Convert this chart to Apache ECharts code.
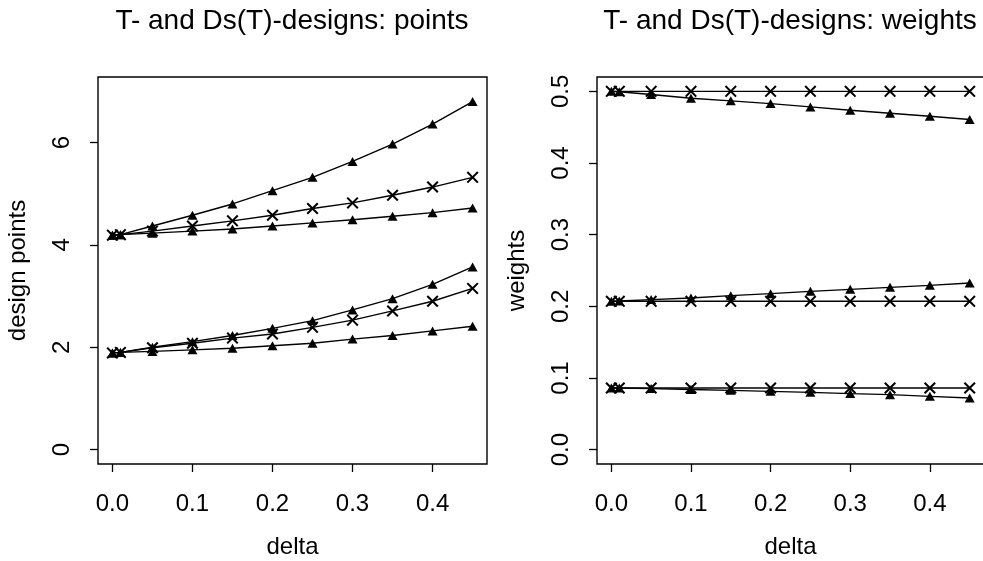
<!DOCTYPE html>
<html>
<head>
<meta charset="utf-8">
<script src="https://cdn.jsdelivr.net/npm/echarts@6/dist/echarts.min.js"></script>
<style>
  html, body { margin: 0; padding: 0; background: #fff; }
  #chart { width: 983px; height: 561px; }
</style>
</head>
<body>
<div id="chart"></div>
<script>
const delta = [0, 0.01, 0.05, 0.1, 0.15, 0.2, 0.25, 0.3, 0.35, 0.4, 0.45]
const xTicks = [0, 0.1, 0.2, 0.3, 0.4]
const pointTicks = [0, 2, 4, 6]
const weightTicks = [0, 0.1, 0.2, 0.3, 0.4, 0.5]

// design points
const pointsTUpperHigh = [4.19, 4.20, 4.37, 4.58, 4.80, 5.06, 5.32, 5.63, 5.97, 6.36, 6.80]
const pointsDsUpper = [4.19, 4.20, 4.27, 4.37, 4.47, 4.58, 4.71, 4.82, 4.97, 5.13, 5.32]
const pointsTUpperLow = [4.19, 4.20, 4.23, 4.27, 4.31, 4.37, 4.43, 4.49, 4.56, 4.63, 4.72]
const pointsTLowerHigh = [1.89, 1.90, 2.00, 2.11, 2.23, 2.37, 2.52, 2.73, 2.95, 3.23, 3.57]
const pointsDsLower = [1.89, 1.90, 1.99, 2.08, 2.18, 2.26, 2.39, 2.53, 2.71, 2.90, 3.15]
const pointsTLowerLow = [1.89, 1.90, 1.92, 1.95, 1.98, 2.03, 2.08, 2.16, 2.23, 2.32, 2.41]

// weights
const weightsTTop = [0.5, 0.4995, 0.4955, 0.4903, 0.4867, 0.4829, 0.4783, 0.4736, 0.4694, 0.4652, 0.4606]
const weightsDsTop = [0.5, 0.5, 0.5, 0.5, 0.5, 0.5, 0.5, 0.5, 0.5, 0.5, 0.5]
const weightsTMid = [0.207, 0.2075, 0.2094, 0.2117, 0.2149, 0.2177, 0.2209, 0.2237, 0.2265, 0.2293, 0.2326]
const weightsDsMid = [0.207, 0.207, 0.207, 0.207, 0.207, 0.207, 0.207, 0.207, 0.207, 0.207, 0.207]
const weightsTLow = [0.0861, 0.086, 0.0852, 0.084, 0.0828, 0.0814, 0.08, 0.0782, 0.0768, 0.0744, 0.0721]
const weightsDsLow = [0.0861, 0.0861, 0.0861, 0.0861, 0.0861, 0.0861, 0.0861, 0.0861, 0.0861, 0.0861, 0.0861]

const FONT = '"Liberation Sans", Arial, Helvetica, sans-serif'
const CROSS = 'path://M0,1.2L1.2,0L5,3.8L8.8,0L10,1.2L6.2,5L10,8.8L8.8,10L5,6.2L1.2,10L0,8.8L3.8,5Z'

const makeSeries = (values, mark, idx) => ({
  type: 'line',
  xAxisIndex: idx,
  yAxisIndex: idx,
  data: delta.map((d, i) => [d, values[i]]),
  symbol: mark === 'tri' ? 'triangle' : CROSS,
  symbolSize: mark === 'tri' ? [10, 9] : 12,
  showAllSymbol: true,
  lineStyle: { color: '#000', width: 1.4 },
  itemStyle: { color: '#000' },
  silent: true
})

const xAxisFor = (idx) => ({
  type: 'value',
  gridIndex: idx,
  min: -0.018,
  max: 0.468,
  name: 'delta',
  nameLocation: 'middle',
  nameGap: 71,
  nameTextStyle: { fontFamily: FONT, fontSize: 24, color: '#000' },
  axisLine: { show: false, onZero: false },
  axisTick: { show: true, inside: false, length: 8, customValues: xTicks, lineStyle: { color: '#000', width: 1.3 } },
  axisLabel: { customValues: xTicks, margin: 28, fontFamily: FONT, fontSize: 24, color: '#000', formatter: v => v.toFixed(1) },
  splitLine: { show: false }
})

const yAxisFor = (idx, min, max, ticks, name, fmt) => ({
  type: 'value',
  gridIndex: idx,
  min: min,
  max: max,
  name: name,
  nameLocation: 'middle',
  nameRotate: 90,
  nameGap: 68,
  nameTextStyle: { fontFamily: FONT, fontSize: 24, color: '#000' },
  axisLine: { show: false, onZero: false },
  axisTick: { show: true, inside: false, length: 8, customValues: ticks, lineStyle: { color: '#000', width: 1.3 } },
  axisLabel: { customValues: ticks, rotate: 90, margin: 24, fontFamily: FONT, fontSize: 24, color: '#000', formatter: fmt },
  splitLine: { show: false }
})

const chart = echarts.init(document.getElementById('chart'))

const option = {
  animation: false,
  backgroundColor: '#fff',
  title: [
    {
      text: 'T- and Ds(T)-designs: points',
      left: 292, top: 7, textAlign: 'center', padding: 0,
      textStyle: { fontFamily: FONT, fontSize: 28, fontWeight: 'normal', color: '#000' }
    },
    {
      text: 'T- and Ds(T)-designs: weights',
      left: 790, top: 7, textAlign: 'center', padding: 0,
      textStyle: { fontFamily: FONT, fontSize: 28, fontWeight: 'normal', color: '#000' }
    }
  ],
  grid: [
    { left: 98, top: 77, width: 389, height: 387, outerBoundsMode: 'none', containLabel: false, show: true, borderColor: '#000', borderWidth: 1.4, backgroundColor: 'transparent' },
    { left: 597, top: 77, width: 387, height: 387, outerBoundsMode: 'none', containLabel: false, show: true, borderColor: '#000', borderWidth: 1.4, backgroundColor: 'transparent' }
  ],
  xAxis: [xAxisFor(0), xAxisFor(1)],
  yAxis: [
    yAxisFor(0, -0.28, 7.28, pointTicks, 'design points', v => String(v)),
    yAxisFor(1, -0.02, 0.52, weightTicks, 'weights', v => v.toFixed(1))
  ],
  series: [
    makeSeries(pointsTUpperHigh, 'tri', 0),
    makeSeries(pointsDsUpper, 'x', 0),
    makeSeries(pointsTUpperLow, 'tri', 0),
    makeSeries(pointsTLowerHigh, 'tri', 0),
    makeSeries(pointsDsLower, 'x', 0),
    makeSeries(pointsTLowerLow, 'tri', 0),
    makeSeries(weightsTTop, 'tri', 1),
    makeSeries(weightsDsTop, 'x', 1),
    makeSeries(weightsTMid, 'tri', 1),
    makeSeries(weightsDsMid, 'x', 1),
    makeSeries(weightsTLow, 'tri', 1),
    makeSeries(weightsDsLow, 'x', 1)
  ]
}

chart.setOption(option)
</script>
</body>
</html>
